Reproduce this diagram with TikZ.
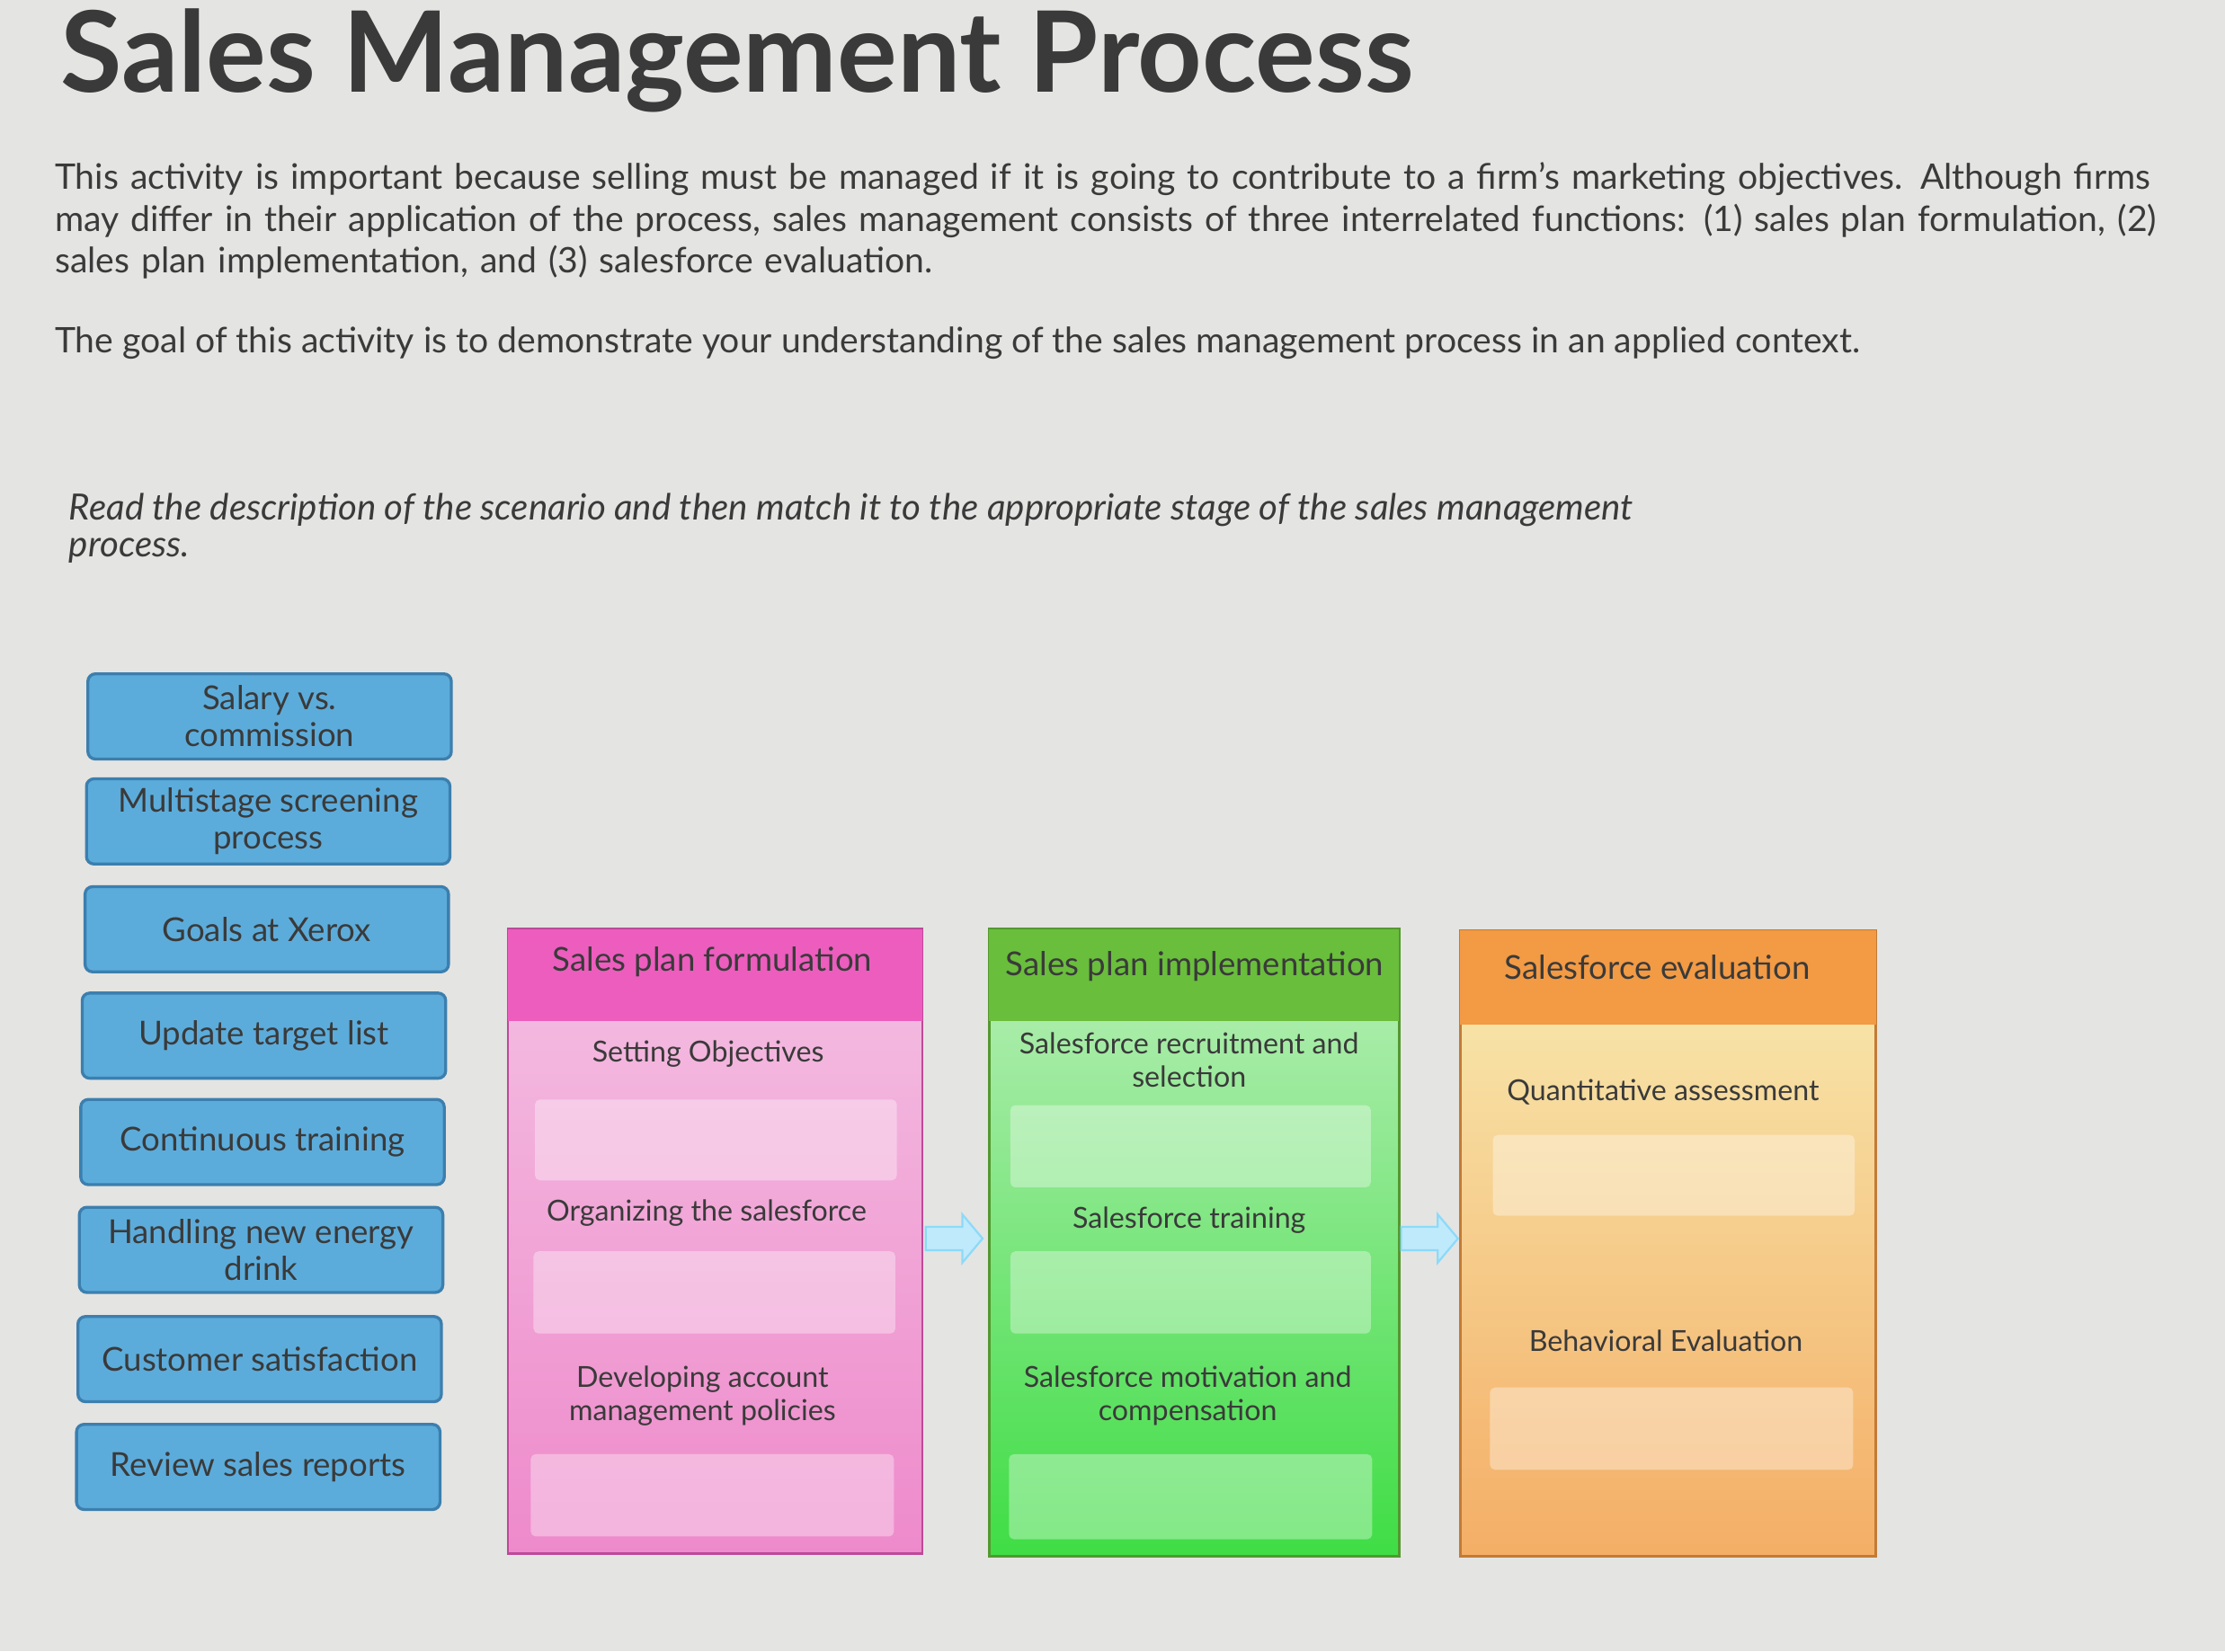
\documentclass[tikz,border=0pt]{standalone}
\usepackage{fontspec}
\setmainfont{Lato}
\usetikzlibrary{shapes.arrows}
\definecolor{bg}{HTML}{E4E4E2}
\definecolor{bluebox}{HTML}{5CACDB}
\definecolor{bluedark}{HTML}{3C7FAE}
\definecolor{pinkh}{HTML}{EC5DBE}
\definecolor{pinkb}{HTML}{F3B8DF}
\definecolor{pinkbot}{HTML}{EE8ACB}
\definecolor{greenh}{HTML}{69BE3C}
\definecolor{greenb}{HTML}{A8ECA8}
\definecolor{greenbot}{HTML}{3FDD45}
\definecolor{orangeh}{HTML}{F29A44}
\definecolor{orangeb}{HTML}{F7E2A6}
\definecolor{orangebot}{HTML}{F4AE66}
\definecolor{txt}{HTML}{3A3A3A}
\begin{document}
\begin{tikzpicture}[x=0.01cm,y=-0.01cm,
  opt/.style={draw=bluedark,line width=0.6pt,fill=bluebox,rounded corners=1.5pt,minimum width=2.56cm,minimum height=0.6cm,align=center,font=\fontsize{6.6}{7.4}\selectfont,text=txt,inner sep=1pt},
  slot/.style={fill=white,fill opacity=0.35,draw=none,rounded corners=1pt},
  lab/.style={align=center,font=\fontsize{5.8}{6.6}\selectfont,text=txt},
  hd/.style={font=\fontsize{6.6}{7.5}\selectfont,text=txt},
  barrow/.style={single arrow,fill=cyan!25,draw=cyan!45,minimum height=0.4cm,minimum width=0.34cm,single arrow head extend=1.5pt,single arrow tip angle=100,inner sep=1.2pt}]
\fill[bg] (0,0) rectangle (1568,1164);
\useasboundingbox (0,0) rectangle (1568,1164);
\node[anchor=west,font=\fontsize{22.5}{24}\bfseries\selectfont,text=txt,inner sep=0pt] (title) at (42,43) {Sales Management Process};
\node[anchor=north west,text width=14.95cm,align=left,font=\fontsize{7.05}{8.3}\selectfont,text=txt,inner sep=0pt] (p1) at (38,114) {This activity is important because selling must be managed if it is going to contribute to a firm’s marketing objectives. Although firms may differ in their application of the process, sales management consists of three interrelated functions: (1) sales plan formulation, (2) sales plan implementation, and (3) salesforce evaluation.};
\node[anchor=west,font=\fontsize{7.05}{8.3}\selectfont,text=txt,inner sep=0pt] (p2) at (38,242) {The goal of this activity is to demonstrate your understanding of the sales management process in an applied context.};
\node[anchor=north west,align=left,font=\fontsize{7.25}{7.4}\itshape\selectfont,text=txt,inner sep=0pt] (p3) at (48,347) {Read the description of the scenario and then match it to the appropriate stage of the sales management\\process.};
% options
\node[opt] (o1) at (190,505) {Salary vs.\\commission};
\node[opt] (o2) at (189,579) {Multistage screening\\process};
\node[opt] (o3) at (188,655) {Goals at Xerox};
\node[opt] (o4) at (186,730) {Update target list};
\node[opt] (o5) at (185,805) {Continuous training};
\node[opt] (o6) at (184,881) {Handling new energy\\drink};
\node[opt] (o7) at (183,958) {Customer satisfaction};
\node[opt] (o8) at (182,1034) {Review sales reports};
% pink column
\shade[top color=pinkb,bottom color=pinkbot] (358,720) rectangle (650,1095);
\draw[pinkh!80!black,line width=0.5pt] (358,655) rectangle (650,1095);
\fill[pinkh] (358,655) rectangle (650,720);
\node[hd] (h1) at (502,678) {Sales plan formulation};
\node[lab] (l11) at (499,743) {Setting Objectives};
\fill[slot] (377,775) rectangle (632,832);
\node[lab] (l12) at (498,855) {Organizing the salesforce};
\fill[slot] (376,882) rectangle (631,940);
\node[lab] (l13) at (495,984) {Developing account\\management policies};
\fill[slot] (374,1025) rectangle (630,1083);
% green column
\shade[top color=greenb,bottom color=greenbot] (697,720) rectangle (986,1097);
\draw[greenh!80!black,line width=0.5pt] (697,655) rectangle (986,1097);
\fill[greenh] (697,655) rectangle (986,720);
\node[hd] (h2) at (842,681) {Sales plan implementation};
\node[lab] (l21) at (838,747) {Salesforce recruitment and\\selection};
\fill[slot] (712,779) rectangle (966,837);
\node[lab] (l22) at (838,860) {Salesforce training};
\fill[slot] (712,882) rectangle (966,940);
\node[lab] (l23) at (837,984) {Salesforce motivation and\\compensation};
\fill[slot] (711,1025) rectangle (967,1085);
% orange column
\shade[top color=orangeb,bottom color=orangebot] (1029,722) rectangle (1322,1097);
\draw[orangeh!80!black,line width=0.5pt] (1029,656) rectangle (1322,1097);
\fill[orangeh] (1029,656) rectangle (1322,722);
\node[hd] (h3) at (1168,682) {Salesforce evaluation};
\node[lab] (l31) at (1172,770) {Quantitative assessment};
\fill[slot] (1052,800) rectangle (1307,857);
\node[lab] (l32) at (1174,945) {Behavioral Evaluation};
\fill[slot] (1050,978) rectangle (1306,1036);
% arrows
\node[barrow] (a1) at (669,873) {};
\node[barrow] (a2) at (1004,873) {};
\end{tikzpicture}
\end{document}
